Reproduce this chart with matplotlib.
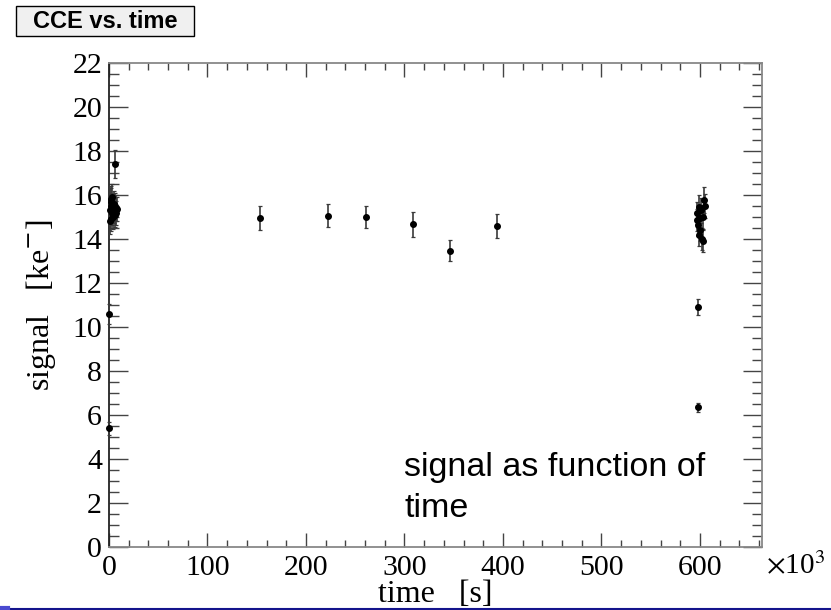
import numpy as np
import matplotlib
matplotlib.use("Agg")
import matplotlib.pyplot as plt
from matplotlib.patches import Rectangle
from matplotlib.lines import Line2D
from matplotlib.ticker import MultipleLocator

# time in units of 10^3 s, signal in ke-
time_start = [0.6, 1.0, 1.6, 2.0, 2.2, 2.5, 3.0, 3.4, 3.9, 4.3, 4.8, 5.2,
              5.7, 6.3, 6.8, 7.3, 8.0, 6.1, 0.2, 0.2]
signal_start = [14.8, 15.3, 15.7, 14.9, 15.8, 15.5, 15.2, 15.9, 15.4, 15.0, 15.6, 15.3,
                15.1, 15.5, 15.2, 15.4, 15.35, 17.4, 10.6, 5.4]
err_start = [0.55, 0.6, 0.6, 0.55, 0.6, 0.6, 0.55, 0.6, 0.6, 0.55, 0.6, 0.55,
             0.55, 0.6, 0.55, 0.6, 0.55, 0.64, 0.45, 0.3]

time_mid = [153, 222, 261, 309, 346.5, 394]
signal_mid = [14.95, 15.06, 15.0, 14.67, 13.47, 14.58]
err_mid = [0.53, 0.52, 0.52, 0.56, 0.48, 0.54]

time_end = [598, 598, 596.5, 597.5, 598.5, 599.5, 600, 600.5, 601.3, 602, 602.8,
            603.5, 604.5, 605, 599]
signal_end = [10.92, 6.35, 14.86, 15.17, 14.64, 15.47, 14.41, 14.95, 15.3, 14.0, 13.9,
              15.0, 15.77, 15.5, 14.2]
err_end = [0.37, 0.21, 0.5, 0.5, 0.5, 0.55, 0.5, 0.5, 0.55, 0.5, 0.5,
           0.55, 0.6, 0.55, 0.5]

t = np.array(time_start + time_mid + time_end)
s = np.array(signal_start + signal_mid + signal_end)
e = np.array(err_start + err_mid + err_end)

fig = plt.figure(figsize=(8.31, 6.10), dpi=100)
ax = fig.add_axes([109 / 831, 63 / 610, 653 / 831, 484 / 610])

ax.errorbar(t, s, yerr=e, fmt='o', color='black', ms=4, mec='black',
            ecolor='#3a3a3a', elinewidth=1.2, capsize=1.6, capthick=0.9,
            clip_on=False, zorder=3)

ax.set_xlim(0, 663)
ax.set_ylim(0, 22)
ax.xaxis.set_major_locator(MultipleLocator(100))
ax.xaxis.set_minor_locator(MultipleLocator(20))
ax.yaxis.set_major_locator(MultipleLocator(2))
ax.yaxis.set_minor_locator(MultipleLocator(0.5))

serif = 'Liberation Serif'
ax.tick_params(which='both', direction='in', top=True, right=True, color='#444444')
ax.tick_params(axis='x', which='major', length=10, width=1, pad=6)
ax.tick_params(axis='x', which='minor', length=5, width=1)
ax.tick_params(axis='y', which='major', length=14, width=1, pad=5)
ax.tick_params(axis='y', which='minor', length=7, width=1)
for lab in ax.get_xticklabels() + ax.get_yticklabels():
    lab.set_fontfamily(serif)
    lab.set_fontsize(21.5)

ax.spines['left'].set_color('#222222')
for side in ['bottom', 'top', 'right']:
    ax.spines[side].set_color('#888888')
for sp in ax.spines.values():
    sp.set_linewidth(1.3)

plt.rcParams['mathtext.fontset'] = 'stix'
ax.set_xlabel('time   [s]', fontfamily=serif, fontsize=23, labelpad=-1)
ax.set_ylabel('signal   [ke$^{-}$]', fontfamily=serif, fontsize=23, labelpad=10)

fig.text(766 / 831, 0.072, r'$\times$10$^{3}$', fontfamily=serif, fontsize=21,
         ha='left', va='center')

ax.text(0.452, 0.197, 'signal as function of\ntime', transform=ax.transAxes,
        fontfamily='Liberation Sans', fontsize=24.5, ha='left', va='top',
        linespacing=1.42)

# title box in the corner
fig.add_artist(Rectangle((16 / 831, 1 - 36 / 610), 178 / 831, 30 / 610,
                         transform=fig.transFigure, facecolor='#f0f0f0',
                         edgecolor='black', linewidth=1))
fig.text(105 / 831, 1 - 21 / 610, 'CCE vs. time', fontfamily='Liberation Sans',
         fontweight='bold', fontsize=17, ha='center', va='center')

# slide border at the bottom
fig.add_artist(Line2D([0, 1], [1.5 / 610, 1.5 / 610], transform=fig.transFigure,
                      color='#14148c', linewidth=1.5))
fig.add_artist(Line2D([0, 8 / 831], [2 / 610, 2 / 610], transform=fig.transFigure,
                      color='#4a4ad0', linewidth=3))

fig.savefig('out.png', dpi=100)
